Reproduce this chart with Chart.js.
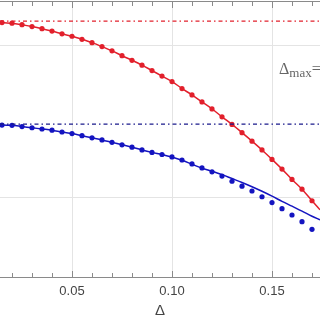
<!DOCTYPE html>
<html>
<head>
<meta charset="utf-8">
<script src="https://cdn.jsdelivr.net/npm/chart.js@4.4.1/dist/chart.umd.min.js"></script>
<style>
  body { margin: 0; background: #fff; }
  #wrap { width: 320px; height: 320px; }
</style>
</head>
<body>
<div id="wrap"><canvas id="grafico"></canvas></div>
<script>
// x positions of the markers
const deltaVals = [0.015, 0.02, 0.025, 0.03, 0.035, 0.04, 0.045, 0.05, 0.055, 0.06,
  0.065, 0.07, 0.075, 0.08, 0.085, 0.09, 0.095, 0.10, 0.105, 0.11,
  0.115, 0.12, 0.125, 0.13, 0.135, 0.14, 0.145, 0.15, 0.155, 0.16, 0.165, 0.17];
const redDots = [1.077, 1.075, 1.070, 1.064, 1.057, 1.049, 1.040, 1.032, 1.022, 1.011,
  0.998, 0.984, 0.968, 0.953, 0.937, 0.919, 0.901, 0.883, 0.860, 0.839,
  0.816, 0.793, 0.767, 0.742, 0.715, 0.687, 0.658, 0.627, 0.595, 0.561, 0.529, 0.491];
const blueDots = [0.740, 0.739, 0.735, 0.731, 0.727, 0.723, 0.717, 0.712, 0.705, 0.698,
  0.691, 0.683, 0.675, 0.667, 0.658, 0.650, 0.643, 0.635, 0.625, 0.612,
  0.599, 0.586, 0.572, 0.555, 0.539, 0.523, 0.504, 0.485, 0.465, 0.444, 0.422, 0.397];

// solid curves (run to the edges of the plot)
const curveX = [0.014, 0.015, 0.02, 0.025, 0.03, 0.035, 0.04, 0.045, 0.05, 0.055, 0.06,
  0.065, 0.07, 0.075, 0.08, 0.085, 0.09, 0.095, 0.10, 0.105, 0.11,
  0.115, 0.12, 0.125, 0.13, 0.135, 0.14, 0.145, 0.15, 0.155, 0.16, 0.165, 0.17, 0.174];
const redCurve = [1.078, 1.077, 1.075, 1.070, 1.064, 1.057, 1.049, 1.040, 1.032, 1.022, 1.011,
  0.998, 0.984, 0.968, 0.953, 0.937, 0.919, 0.901, 0.883, 0.860, 0.839,
  0.816, 0.793, 0.767, 0.742, 0.715, 0.687, 0.658, 0.627, 0.595, 0.561, 0.529, 0.491, 0.461];
const blueCurve = [0.741, 0.740, 0.739, 0.735, 0.731, 0.727, 0.723, 0.717, 0.712, 0.705, 0.698,
  0.691, 0.683, 0.675, 0.667, 0.658, 0.650, 0.643, 0.635, 0.624, 0.611,
  0.598, 0.588, 0.577, 0.564, 0.551, 0.537, 0.522, 0.506, 0.489, 0.473, 0.457, 0.440, 0.428];

const redLimit = 1.082;
const blueLimit = 0.743;
const xTicks = [0.05, 0.10, 0.15];
const minorTicks = [0.02, 0.03, 0.04, 0.05, 0.06, 0.07, 0.08, 0.09, 0.10, 0.11, 0.12, 0.13, 0.14, 0.15, 0.16, 0.17];
const yGrid = [0.5, 1.0];

const rojo = "#e2202c";
const azul = "#1414c0";

const pares = (xs, ys) => xs.map((x, i) => ({ x: x, y: ys[i] }));
const xMin = 0.014, xMax = 0.174;

const marco = {
  id: "marco",
  afterDraw(chart) {
    const c = chart.ctx;
    const a = chart.chartArea;
    const sx = chart.scales.x;
    c.save();
    c.strokeStyle = "#8a8a8a";
    c.lineWidth = 1;
    c.beginPath();
    c.moveTo(a.left, a.bottom + 0.5); c.lineTo(a.right, a.bottom + 0.5);
    c.moveTo(a.left, a.top - 0.5); c.lineTo(a.right, a.top - 0.5);
    minorTicks.forEach(v => {
      const px = Math.round(sx.getPixelForValue(v)) + 0.5;
      const len = xTicks.some(t => Math.abs(t - v) < 1e-9) ? 6 : 4;
      c.moveTo(px, a.bottom); c.lineTo(px, a.bottom - len);
      c.moveTo(px, a.top); c.lineTo(px, a.top + len);
    });
    c.stroke();

    // Delta_max label, cut by the right edge as in the original
    c.fillStyle = "#666";
    c.textBaseline = "alphabetic";
    c.font = "16px 'Liberation Serif'";
    let x = 279;
    c.fillText("\u0394", x, 74);
    x += c.measureText("\u0394").width;
    c.font = "13px 'Liberation Serif'";
    c.fillText("max", x, 77);
    x += c.measureText("max").width;
    c.font = "16px 'Liberation Serif'";
    c.fillText("=", x, 74);
    c.restore();
  }
};

const ctx = document.getElementById("grafico").getContext("2d");
const grafico = new Chart(ctx, {
  type: "scatter",
  data: {
    datasets: [
      {
        data: [{ x: xMin, y: redLimit }, { x: xMax, y: redLimit }],
        showLine: true, borderColor: rojo, borderWidth: 1.2,
        borderDash: [4, 3, 1.5, 3], pointRadius: 0
      },
      {
        data: [{ x: xMin, y: blueLimit }, { x: xMax, y: blueLimit }],
        showLine: true, borderColor: "#1a1a8c", borderWidth: 1.2,
        borderDash: [4, 3, 1.5, 3], pointRadius: 0
      },
      {
        data: pares(curveX, redCurve),
        showLine: true, borderColor: rojo, borderWidth: 1.5,
        cubicInterpolationMode: "monotone", pointRadius: 0
      },
      {
        data: pares(curveX, blueCurve),
        showLine: true, borderColor: azul, borderWidth: 1.5,
        cubicInterpolationMode: "monotone", pointRadius: 0
      },
      {
        data: pares(deltaVals, redDots),
        pointRadius: 2.6, pointBackgroundColor: rojo, pointBorderWidth: 0
      },
      {
        data: pares(deltaVals, blueDots),
        pointRadius: 2.6, pointBackgroundColor: azul, pointBorderWidth: 0
      }
    ]
  },
  options: {
    responsive: true,
    maintainAspectRatio: false,
    animation: false,
    layout: { autoPadding: false, padding: { top: 2, left: 0, right: 0, bottom: 0 } },
    plugins: { legend: { display: false }, tooltip: { enabled: false } },
    scales: {
      x: {
        type: "linear", min: xMin, max: xMax,
        afterBuildTicks: s => { s.ticks = xTicks.map(v => ({ value: v })); },
        afterFit: s => { s.height = 43; },
        grid: { color: "#e4e4e4", drawTicks: false },
        border: { display: false },
        ticks: {
          color: "#444", padding: 7,
          font: { family: "'Liberation Sans'", size: 13 },
          callback: v => v.toFixed(2)
        },
        title: {
          display: true, text: "\u0394", color: "#444", padding: { top: 4, bottom: 0 },
          font: { family: "'Liberation Sans'", size: 15 }
        }
      },
      y: {
        type: "linear", min: 0.2401, max: 1.1447,
        afterBuildTicks: s => { s.ticks = yGrid.map(v => ({ value: v })); },
        afterFit: s => { s.width = 0; },
        grid: { color: "#e4e4e4", drawTicks: false },
        border: { display: false },
        ticks: { display: false }
      }
    }
  },
  plugins: [marco]
});
</script>
</body>
</html>
